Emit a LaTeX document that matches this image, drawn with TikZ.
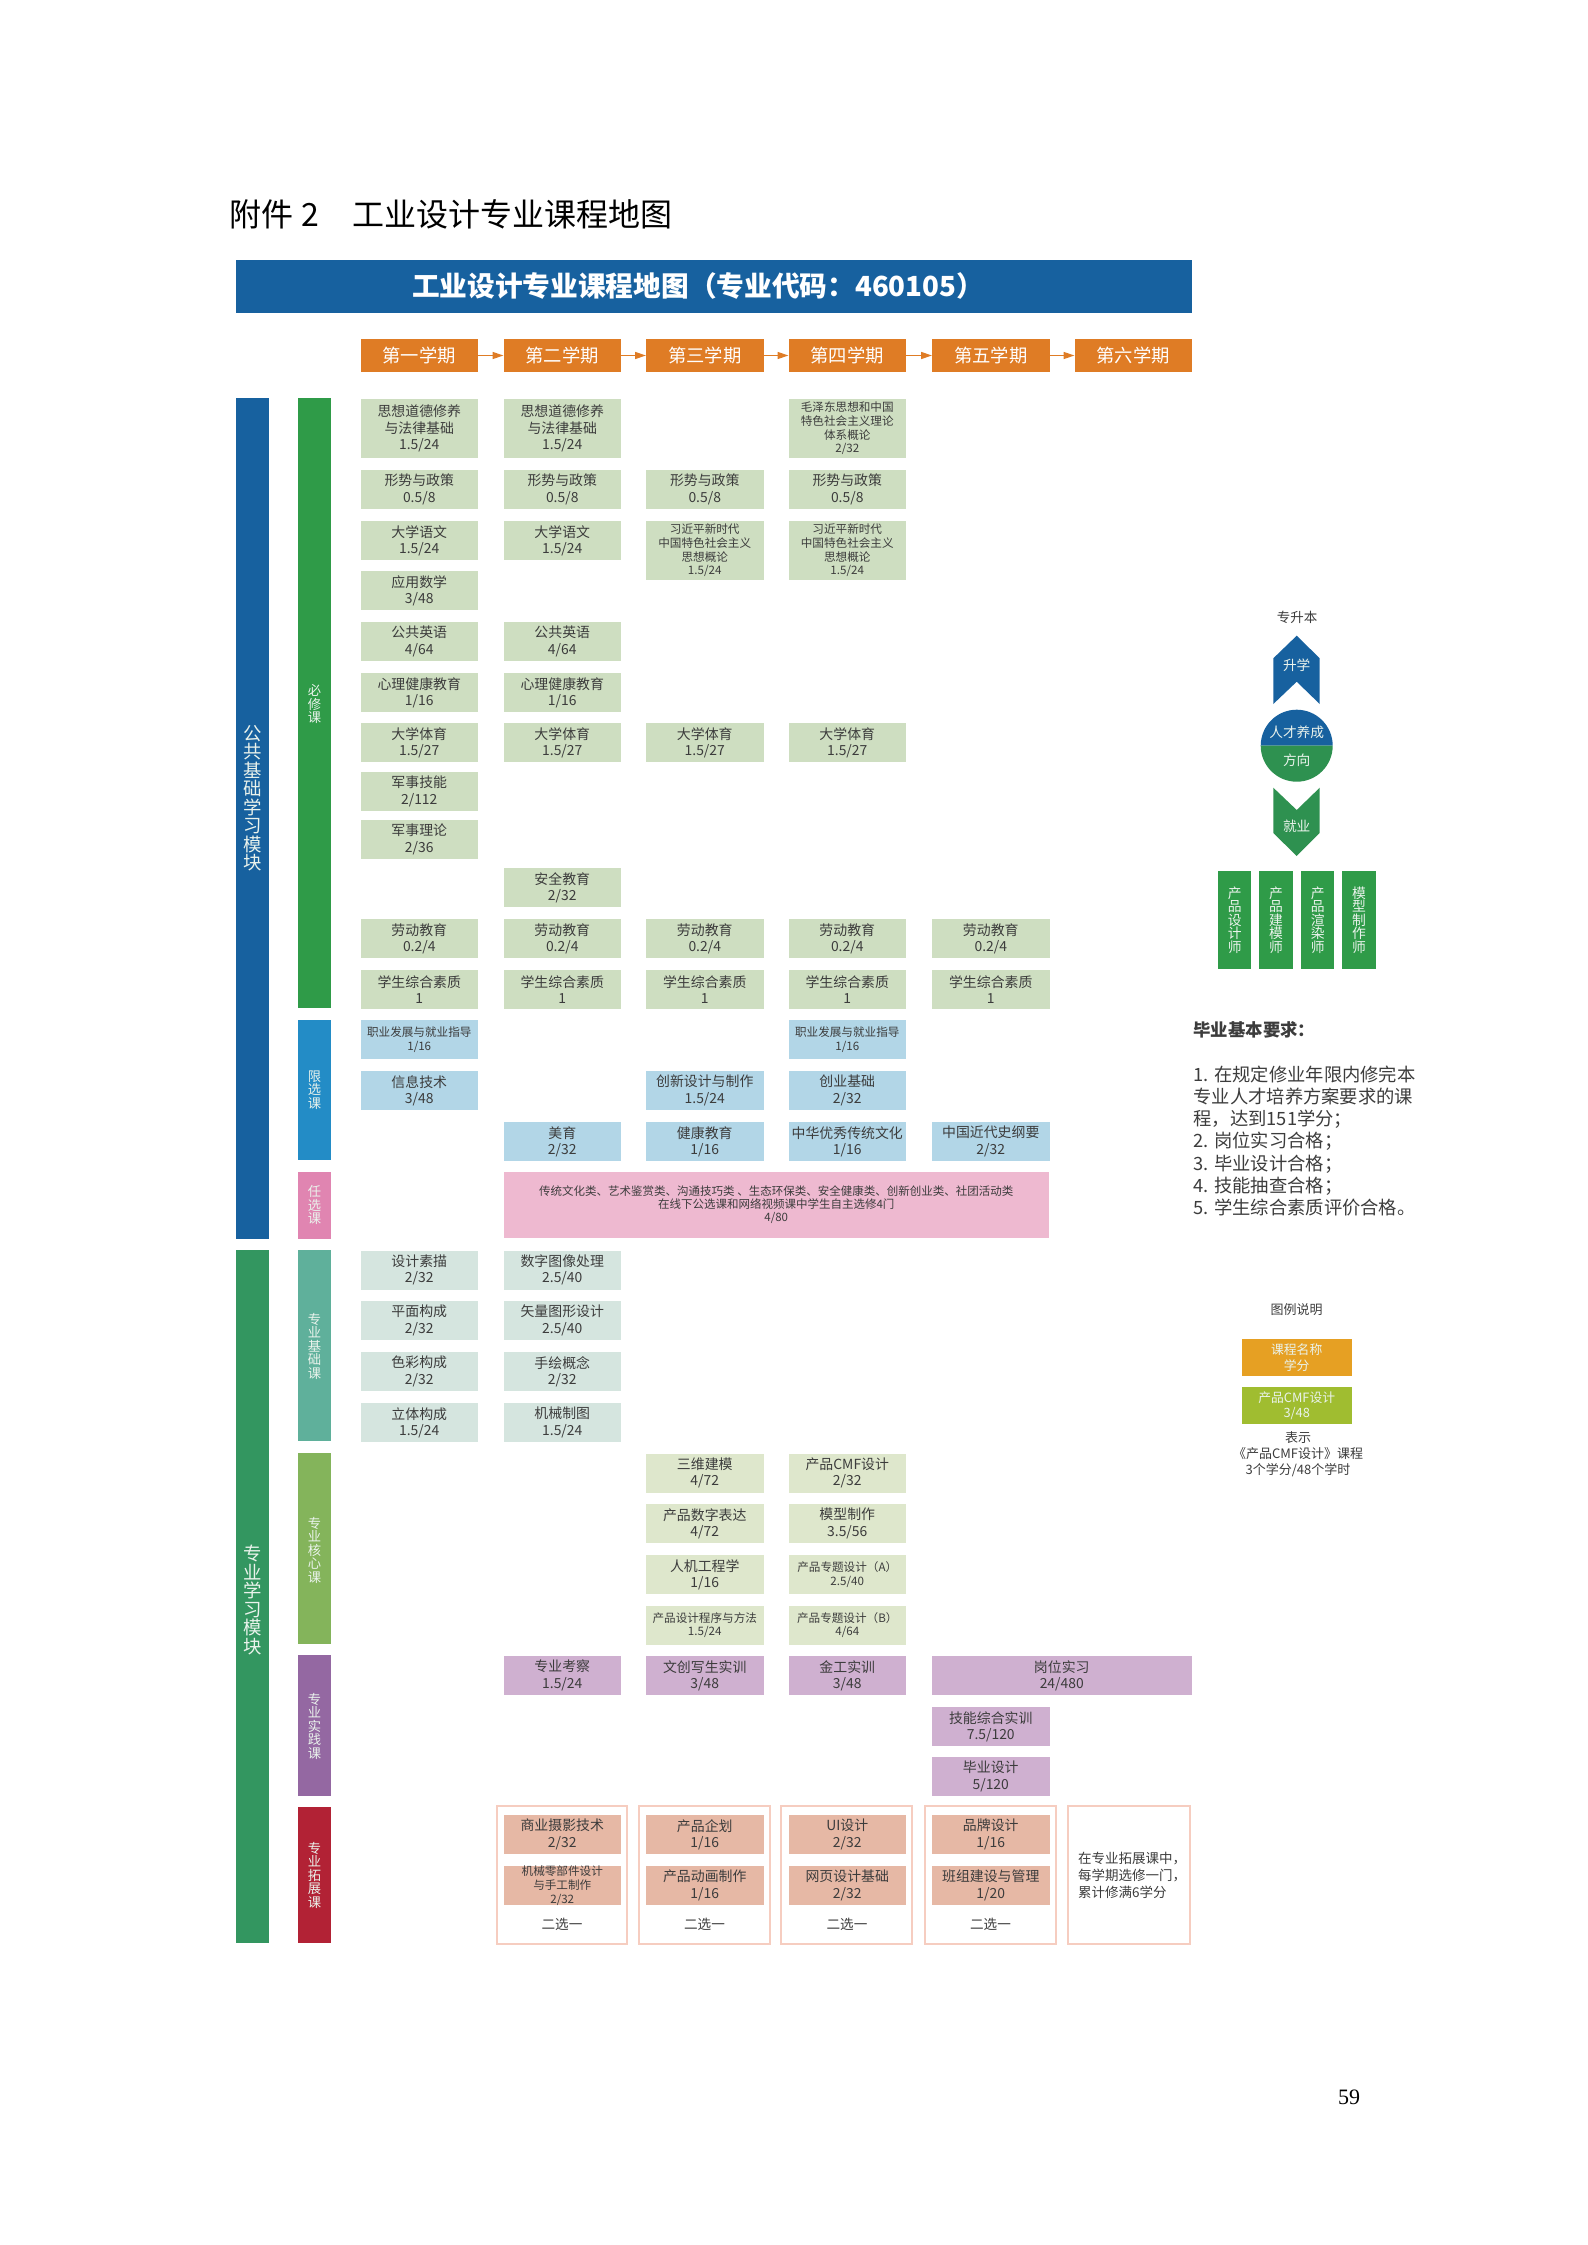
\documentclass[tikz,border=0pt]{standalone}
\usepackage{fontspec}
\setmainfont{Noto Sans CJK SC}
\newfontfamily\numfont{Liberation Serif}
\usetikzlibrary{arrows.meta}
\definecolor{bannerblue}{HTML}{17619F}
\definecolor{headorange}{HTML}{DF7C25}
\definecolor{bargreen}{HTML}{2F9B48}
\definecolor{barblue}{HTML}{238CC6}
\definecolor{barpink}{HTML}{E085B1}
\definecolor{modgreen}{HTML}{339660}
\definecolor{barteal}{HTML}{5FB09B}
\definecolor{barolive}{HTML}{84B45B}
\definecolor{barpurple}{HTML}{9468A2}
\definecolor{barred}{HTML}{B22235}
\definecolor{cgreen}{HTML}{CEDEC1}
\definecolor{cblue}{HTML}{B2D6E7}
\definecolor{cpink}{HTML}{EEB9D0}
\definecolor{cteal}{HTML}{D5E5DF}
\definecolor{colive}{HTML}{DEE7CC}
\definecolor{cpurple}{HTML}{CFB0D0}
\definecolor{csalmon}{HTML}{E6B8A5}
\definecolor{framec}{HTML}{F6CDC0}
\definecolor{inkc}{HTML}{3C3C3C}
\definecolor{legorange}{HTML}{E6A023}
\definecolor{leggreen}{HTML}{A0BD30}
\definecolor{downgreen}{HTML}{2E9150}
\definecolor{softw}{HTML}{EAF3EC}
\def\colA{360.5}\def\colB{503.5}\def\colC{646}\def\colD{788.5}\def\colE{932}
\tikzset{
  every node/.append style={inner sep=0pt,outer sep=0pt,execute at begin node={\lineskiplimit=-100pt\relax}},
  cbox/.style={anchor=north west,minimum width=117.5pt,minimum height=39pt,align=center,text=inkc,
    font=\fontsize{13.9}{16.3}\selectfont},
  small/.style={font=\fontsize{11.6}{13.7}\selectfont},
  tiny/.style={font=\fontsize{11.6}{13.7}\selectfont},
  tall/.style={minimum height=59pt},
  headbox/.style={anchor=north west,minimum width=117.5pt,minimum height=33pt,fill=headorange,text=white,
    font=\fontsize{18.3}{20}\selectfont},
  headarrow/.style={draw=headorange,line width=1.4pt,-{Triangle[length=11pt,width=7pt]}},
  barbox/.style={minimum width=33pt},
  barlabel/.style={align=center,text=softw,font=\fontsize{13.3}{13.5}\selectfont},
  modlabel/.style={align=center,text=softw,font=\fontsize{18.4}{18.5}\selectfont},
  frameb/.style={anchor=north west,draw=framec,line width=1.4pt,minimum height=138pt},
  choice/.style={text=inkc,font=\fontsize{13.6}{15}\selectfont},
  jobbox/.style={anchor=north west,minimum width=33.3pt,minimum height=98.3pt,fill=bargreen,align=center,text=softw,
    font=\fontsize{13.8}{13.5}\selectfont},
  sidetext/.style={text=softw,font=\fontsize{13.7}{15}\selectfont},
  blacktext/.style={text=inkc,align=center,font=\fontsize{13}{16}\selectfont},
  legbox/.style={anchor=north west,minimum width=110pt,minimum height=37pt,align=center,text=softw,
    font=\fontsize{12.8}{15.5}\selectfont},
}
\newcommand{\course}[5]{\node[cbox,#1] (#2) at (#3,#4) {#5};}
\newcommand{\vbar}[8]{%
  \node[barbox,fill=#2,minimum height={#4-#3}] (#1) at (#5,{(#3+#4)/2}) {};
  \node[#6] (#1t) at (#5,#7) {#8};}
\begin{document}
\begin{tikzpicture}[x=1pt,y=-1pt]
\useasboundingbox (0,0) rectangle (1587,2245);
% title
\node[anchor=west,text=black,font=\fontsize{32}{34}\selectfont] (title) at (229,214)
  {附件\hspace{8pt}2\hspace{34pt}工业设计专业课程地图};
\node[fill=bannerblue,anchor=north west,minimum width=956pt,minimum height=53pt] (banner) at (236,260) {};
\node[anchor=west,text=white,font=\fontsize{27.7}{30}\selectfont\bfseries] (bannertext) at (412,286)
  {工业设计专业课程地图（专业代码：460105）};
% semesters
\node[headbox] (s1) at (\colA,339) {第一学期};
\node[headbox] (s2) at (\colB,339) {第二学期};
\node[headbox] (s3) at (\colC,339) {第三学期};
\node[headbox] (s4) at (\colD,339) {第四学期};
\node[headbox] (s5) at (\colE,339) {第五学期};
\node[headbox] (s6) at (1074.5,339) {第六学期};
\draw[headarrow] (s1) -- (s2);
\draw[headarrow] (s2) -- (s3);
\draw[headarrow] (s3) -- (s4);
\draw[headarrow] (s4) -- (s5);
\draw[headarrow] (s5) -- (s6);
% bars
\vbar{ma}{bannerblue}{398}{1239}{252.5}{modlabel}{798}{公\\共\\基\\础\\学\\习\\模\\块}
\vbar{mb}{modgreen}{1250}{1943}{252.5}{modlabel}{1600}{专\\业\\学\\习\\模\\块}
\vbar{ba}{bargreen}{398}{1008}{314.5}{barlabel}{704}{必\\修\\课}
\vbar{bb}{barblue}{1020}{1160}{314.5}{barlabel}{1090}{限\\选\\课}
\vbar{bc}{barpink}{1172}{1239}{314.5}{barlabel}{1205}{任\\选\\课}
\vbar{bd}{barteal}{1250}{1441}{314.5}{barlabel}{1346}{专\\业\\基\\础\\课}
\vbar{be}{barolive}{1453}{1644}{314.5}{barlabel}{1550}{专\\业\\核\\心\\课}
\vbar{bf}{barpurple}{1655}{1796}{314.5}{barlabel}{1726}{专\\业\\实\\践\\课}
\vbar{bg}{barred}{1807}{1943}{314.5}{barlabel}{1875}{专\\业\\拓\\展\\课}
% required courses
\begin{scope}[every node/.append style={fill=cgreen}]
\course{tall}{a1}{\colA}{399}{思想道德修养\\与法律基础\\1.5/24}
\course{tall}{a2}{\colB}{399}{思想道德修养\\与法律基础\\1.5/24}
\course{tall,small}{a4}{\colD}{399}{毛泽东思想和中国\\特色社会主义理论\\体系概论\\2/32}
\course{}{b1}{\colA}{470}{形势与政策\\0.5/8}
\course{}{b2}{\colB}{470}{形势与政策\\0.5/8}
\course{}{b3}{\colC}{470}{形势与政策\\0.5/8}
\course{}{b4}{\colD}{470}{形势与政策\\0.5/8}
\course{}{c1}{\colA}{521}{大学语文\\1.5/24}
\course{}{c2}{\colB}{521}{大学语文\\1.5/24}
\course{tall,small}{c3}{\colC}{521}{习近平新时代\\中国特色社会主义\\思想概论\\1.5/24}
\course{tall,small}{c4}{\colD}{521}{习近平新时代\\中国特色社会主义\\思想概论\\1.5/24}
\course{}{d1}{\colA}{571}{应用数学\\3/48}
\course{}{e1}{\colA}{622}{公共英语\\4/64}
\course{}{e2}{\colB}{622}{公共英语\\4/64}
\course{}{f1}{\colA}{673}{心理健康教育\\1/16}
\course{}{f2}{\colB}{673}{心理健康教育\\1/16}
\course{}{g1}{\colA}{723}{大学体育\\1.5/27}
\course{}{g2}{\colB}{723}{大学体育\\1.5/27}
\course{}{g3}{\colC}{723}{大学体育\\1.5/27}
\course{}{g4}{\colD}{723}{大学体育\\1.5/27}
\course{}{h1}{\colA}{772}{军事技能\\2/112}
\course{}{i1}{\colA}{820}{军事理论\\2/36}
\course{}{j2}{\colB}{868}{安全教育\\2/32}
\course{}{k1}{\colA}{919}{劳动教育\\0.2/4}
\course{}{k2}{\colB}{919}{劳动教育\\0.2/4}
\course{}{k3}{\colC}{919}{劳动教育\\0.2/4}
\course{}{k4}{\colD}{919}{劳动教育\\0.2/4}
\course{}{k5}{\colE}{919}{劳动教育\\0.2/4}
\course{}{l1}{\colA}{970}{学生综合素质\\1}
\course{}{l2}{\colB}{970}{学生综合素质\\1}
\course{}{l3}{\colC}{970}{学生综合素质\\1}
\course{}{l4}{\colD}{970}{学生综合素质\\1}
\course{}{l5}{\colE}{970}{学生综合素质\\1}
\end{scope}
% limited electives
\begin{scope}[every node/.append style={fill=cblue}]
\course{small}{m1}{\colA}{1020}{职业发展与就业指导\\1/16}
\course{small}{m4}{\colD}{1020}{职业发展与就业指导\\1/16}
\course{}{n1}{\colA}{1071}{信息技术\\3/48}
\course{}{n3}{\colC}{1071}{创新设计与制作\\1.5/24}
\course{}{n4}{\colD}{1071}{创业基础\\2/32}
\course{}{o2}{\colB}{1122}{美育\\2/32}
\course{}{o3}{\colC}{1122}{健康教育\\1/16}
\course{}{o4}{\colD}{1122}{中华优秀传统文化\\1/16}
\course{}{o5}{\colE}{1122}{中国近代史纲要\\2/32}
\end{scope}
% free electives
\node[cbox,small,fill=cpink,minimum width=545.5pt,minimum height=66pt,font=\fontsize{11.5}{13}\selectfont] (p2) at (\colB,1172)
  {传统文化类、艺术鉴赏类、沟通技巧类 、生态环保类、安全健康类、创新创业类、社团活动类\\在线下公选课和网络视频课中学生自主选修4门\\4/80};
% base
\begin{scope}[every node/.append style={fill=cteal}]
\course{}{q1}{\colA}{1250.5}{设计素描\\2/32}
\course{}{q2}{\colB}{1250.5}{数字图像处理\\2.5/40}
\course{}{r1}{\colA}{1301}{平面构成\\2/32}
\course{}{r2}{\colB}{1301}{矢量图形设计\\2.5/40}
\course{}{s1b}{\colA}{1352}{色彩构成\\2/32}
\course{}{s2b}{\colB}{1352}{手绘概念\\2/32}
\course{}{t1}{\colA}{1403}{立体构成\\1.5/24}
\course{}{t2}{\colB}{1403}{机械制图\\1.5/24}
\end{scope}
% core
\begin{scope}[every node/.append style={fill=colive}]
\course{}{u3}{\colC}{1453.5}{三维建模\\4/72}
\course{}{u4}{\colD}{1453.5}{产品CMF设计\\2/32}
\course{}{v3}{\colC}{1504}{产品数字表达\\4/72}
\course{}{v4}{\colD}{1504}{模型制作\\3.5/56}
\course{}{w3}{\colC}{1555}{人机工程学\\1/16}
\course{tiny}{w4}{\colD}{1555}{产品专题设计（A）\\2.5/40}
\course{small}{x3}{\colC}{1605.5}{产品设计程序与方法\\1.5/24}
\course{tiny}{x4}{\colD}{1605.5}{产品专题设计（B）\\4/64}
\end{scope}
% practice
\begin{scope}[every node/.append style={fill=cpurple}]
\course{}{y2}{\colB}{1656}{专业考察\\1.5/24}
\course{}{y3}{\colC}{1656}{文创写生实训\\3/48}
\course{}{y4}{\colD}{1656}{金工实训\\3/48}
\course{minimum width=259.5pt}{y5}{\colE}{1656}{岗位实习\\24/480}
\course{}{z5}{\colE}{1707}{技能综合实训\\7.5/120}
\course{}{aa5}{\colE}{1757}{毕业设计\\5/120}
\end{scope}
% extension frames
\node[frameb,minimum width=130pt] (fa) at (497,1806) {};
\node[frameb,minimum width=131pt] (fb) at (639,1806) {};
\node[frameb,minimum width=131pt] (fc) at (781,1806) {};
\node[frameb,minimum width=131pt] (fd) at (925,1806) {};
\node[frameb,minimum width=122pt] (fe) at (1068,1806) {};
\begin{scope}[every node/.append style={fill=csalmon}]
\course{}{ab2}{\colB}{1815}{商业摄影技术\\2/32}
\course{}{ab3}{\colC}{1815}{产品企划\\1/16}
\course{}{ab4}{\colD}{1815}{UI设计\\2/32}
\course{}{ab5}{\colE}{1815}{品牌设计\\1/16}
\course{small}{ac2}{\colB}{1866}{机械零部件设计\\与手工制作\\2/32}
\course{}{ac3}{\colC}{1866}{产品动画制作\\1/16}
\course{}{ac4}{\colD}{1866}{网页设计基础\\2/32}
\course{}{ac5}{\colE}{1866}{班组建设与管理\\1/20}
\end{scope}
\node[choice] (ch2) at (562,1924) {二选一};
\node[choice] (ch3) at (704.5,1924) {二选一};
\node[choice] (ch4) at (847,1924) {二选一};
\node[choice] (ch5) at (990.5,1924) {二选一};
\node[anchor=west,align=left,text=inkc,font=\fontsize{13.5}{17}\selectfont] (note) at (1078,1875)
  {在专业拓展课中，\\每学期选修一门，\\累计修满6学分};
% right column: pathway
\node[blacktext,font=\fontsize{13.5}{15}\selectfont] (zsb) at (1297,617) {专升本};
\fill[bannerblue] (1296.7,635.7) -- (1319.7,658.3) -- (1319.7,704) -- (1296.7,681.7) -- (1273.3,704) -- (1273.3,658.3) -- cycle;
\node[sidetext] (up) at (1296.7,665) {升学};
\fill[bannerblue] (1260.7,745.7) arc[start angle=180,end angle=0,radius=36,y radius=-36] -- cycle;
\fill[downgreen] (1260.7,745.7) arc[start angle=180,end angle=360,radius=36,y radius=-36] -- cycle;
\node[sidetext] (ca) at (1296.7,732) {人才养成};
\node[sidetext] (cb) at (1296.7,760) {方向};
\fill[downgreen] (1273.3,787.7) -- (1296.7,810) -- (1319.7,787.7) -- (1319.7,833) -- (1296.7,856) -- (1273.3,833) -- cycle;
\node[sidetext] (down) at (1296.7,826) {就业};
\node[jobbox] (j1) at (1218,870.7) {产\\品\\设\\计\\师};
\node[jobbox] (j2) at (1259.4,870.7) {产\\品\\建\\模\\师};
\node[jobbox] (j3) at (1301,870.7) {产\\品\\渲\\染\\师};
\node[jobbox] (j4) at (1342.4,870.7) {模\\型\\制\\作\\师};
% graduation
\node[anchor=west,text=inkc,font=\fontsize{17.4}{20}\selectfont\bfseries] (gradt) at (1193.5,1030) {毕业基本要求：};
\node[anchor=west,align=left,text=inkc,font=\fontsize{18.3}{22.15}\selectfont] (grad) at (1193.5,1141)
  {1. 在规定修业年限内修完本\\专业人才培养方案要求的课\\程，达到151学分；\\2. 岗位实习合格；\\3. 毕业设计合格；\\4. 技能抽查合格；\\5. 学生综合素质评价合格。};
% legend
\node[blacktext] (legt) at (1296.7,1310) {图例说明};
\node[legbox,fill=legorange] (lega) at (1241.7,1339.3) {课程名称\\学分};
\node[legbox,fill=leggreen] (legb) at (1241.7,1387) {产品CMF设计\\3/48};
\node[blacktext] (legc) at (1298,1454) {表示\\《产品CMF设计》课程\\3个学分/48个学时};
% page number
\node[text=black,font=\numfont\fontsize{22}{24}\selectfont] (pg) at (1349,2097) {59};
\end{tikzpicture}
\end{document}
